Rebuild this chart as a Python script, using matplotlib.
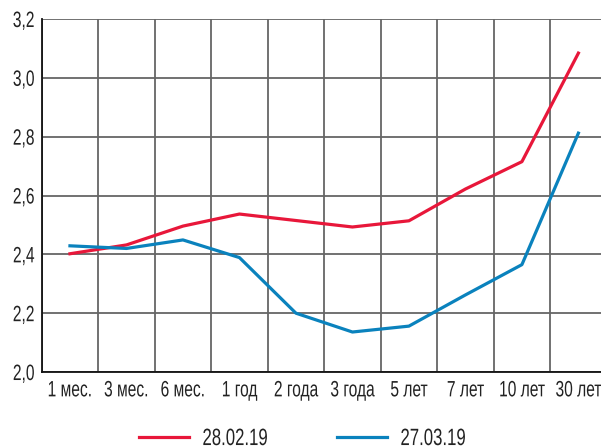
import matplotlib
matplotlib.use("Agg")
import matplotlib.pyplot as plt
from matplotlib.ticker import FixedLocator, FuncFormatter
from matplotlib.patheffects import AbstractPathEffect
from matplotlib.transforms import Affine2D

# Tenors and yields
tenors = ["1 мес.", "3 мес.", "6 мес.", "1 год", "2 года", "3 года",
          "5 лет", "7 лет", "10 лет", "30 лет"]
yield_feb = [2.402, 2.432, 2.496, 2.537, 2.515, 2.493, 2.514, 2.622, 2.715, 3.084]
yield_mar = [2.429, 2.420, 2.449, 2.389, 2.200, 2.136, 2.156, 2.262, 2.365, 2.812]
labels = ["28.02.19", "27.03.19"]


# squeeze glyphs horizontally to fake a condensed typeface
class Squeeze(AbstractPathEffect):
    def __init__(self, sx=0.7, anchor='center'):
        super().__init__()
        self.sx = sx
        self.anchor = anchor

    def draw_path(self, renderer, gc, tpath, affine, rgbFace=None):
        ext = tpath.get_extents()
        cx = {'left': 0.0, 'center': (ext.x0 + ext.x1) / 2, 'right': ext.x1}[self.anchor]
        t = Affine2D().translate(-cx, 0).scale(self.sx, 1).translate(cx, 0)
        renderer.draw_path(gc, tpath, t + affine, rgbFace)


plt.rcParams['font.family'] = ['Liberation Sans', 'DejaVu Sans']

fig = plt.figure(figsize=(6.01, 4.48), dpi=100)
ax = fig.add_axes([0.0694, 0.1696, 0.940, 0.788])

x = list(range(len(tenors)))
ax.plot(x, yield_feb, color='#e8173a', lw=2.3, label=labels[0], zorder=3)
ax.plot(x, yield_mar, color='#0a82bd', lw=2.3, label=labels[1], zorder=3)

ax.set_xlim(-0.5, len(tenors) - 0.5)
ax.set_ylim(2.0, 3.2)
ax.set_xticks(x)
ax.set_xticklabels(tenors)
ax.xaxis.set_minor_locator(FixedLocator([i - 0.5 for i in range(len(tenors) + 1)]))
ax.set_yticks([2.0, 2.2, 2.4, 2.6, 2.8, 3.0, 3.2])
ax.yaxis.set_major_formatter(FuncFormatter(lambda v, p: f"{v:.1f}".replace('.', ',')))

ax.grid(True, which='minor', axis='x', color='#666666', lw=1.3)
ax.grid(True, which='major', axis='y', color='#666666', lw=1.3)
ax.grid(False, which='major', axis='x')
ax.tick_params(axis='both', which='both', length=0, labelsize=16, colors='#222222')
ax.tick_params(axis='x', pad=6)
ax.tick_params(axis='y', pad=5)

for s in ['top', 'right']:
    ax.spines[s].set_visible(False)
for s in ['left', 'bottom']:
    ax.spines[s].set_color('#111111')
    ax.spines[s].set_linewidth(1.3)
ax.set_axisbelow(True)

for lab in ax.get_xticklabels():
    lab.set_path_effects([Squeeze(0.70, 'center')])
for lab in ax.get_yticklabels():
    lab.set_path_effects([Squeeze(0.70, 'right')])

leg = fig.legend(loc='center', bbox_to_anchor=(0.525, 0.02), ncol=2, frameon=False,
                 fontsize=17, handlelength=2.15, handletextpad=0.55, columnspacing=1.8)
for t in leg.get_texts():
    t.set_color('#222222')
    t.set_path_effects([Squeeze(0.71, 'left')])

fig.savefig("out.png", dpi=100)
